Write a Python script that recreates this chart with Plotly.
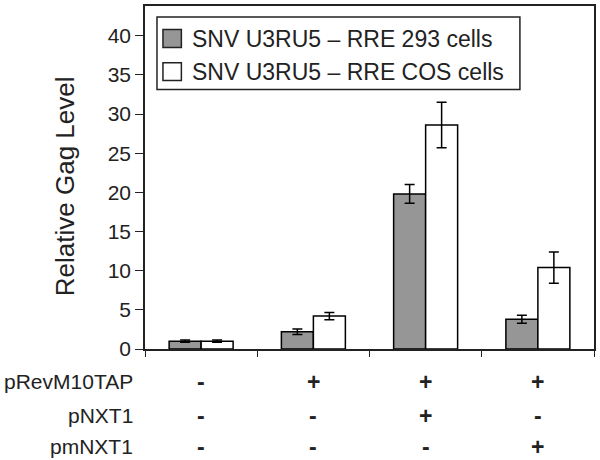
import plotly.graph_objects as go

# data
categories = ["c1", "c2", "c3", "c4"]
series_names = ["SNV U3RU5 \u2013 RRE 293 cells", "SNV U3RU5 \u2013 RRE COS cells"]
series_colors = ["#969696", "#ffffff"]
gag_293 = [1.0, 2.2, 19.8, 3.8]
err_293 = [0.15, 0.35, 1.2, 0.5]
gag_cos = [1.0, 4.2, 28.6, 10.4]
err_cos = [0.15, 0.45, 2.9, 2.0]

row_labels = ["pRevM10TAP", "pNXT1", "pmNXT1"]
row_signs = [
    ["-", "+", "+", "+"],
    ["-", "-", "+", "-"],
    ["-", "-", "-", "+"],
]

FONT = "Liberation Sans, Arial, sans-serif"
INK = "#222"

fig = go.Figure()
for name, vals, errs, fill in zip(series_names, [gag_293, gag_cos], [err_293, err_cos], series_colors):
    fig.add_trace(go.Bar(
        x=categories, y=vals, name=name, showlegend=False,
        marker=dict(color=fill, line=dict(color="black", width=1.5)),
        error_y=dict(type="data", array=errs, color="black", thickness=1.5, width=5),
    ))

annotations = []
shapes = []

# +/- table under the axis
row_y = [-0.096, -0.194, -0.285]
for label, signs, yy in zip(row_labels, row_signs, row_y):
    annotations.append(dict(
        text=label, xref="paper", yref="paper", x=-0.022, y=yy,
        xanchor="right", yanchor="middle", showarrow=False,
        font=dict(size=21, color=INK),
    ))
    for cat, s in zip(categories, signs):
        annotations.append(dict(
            text="<b>%s</b>" % s, xref="x", yref="paper", x=cat, y=yy,
            xanchor="center", yanchor="middle", showarrow=False,
            font=dict(size=23, color=INK),
        ))

annotations.append(dict(
    text="Relative Gag Level", xref="paper", yref="paper", x=-0.178, y=0.475,
    xanchor="center", yanchor="middle", textangle=-90, showarrow=False,
    font=dict(size=26, color=INK),
))

# boxed legend, drawn like the Excel one (larger swatches than plotly's)
shapes.append(dict(type="rect", xref="paper", yref="paper",
                   x0=0.0267, x1=0.835, y0=0.7565, y1=0.968,
                   line=dict(color=INK, width=1.5), fillcolor="white", layer="above"))
for i, (name, fill) in enumerate(zip(series_names, series_colors)):
    yc = 0.9052 - i * 0.0965
    shapes.append(dict(type="rect", xref="paper", yref="paper",
                       x0=0.040, x1=0.081, y0=yc - 0.026, y1=yc + 0.026,
                       line=dict(color=INK, width=1.5), fillcolor=fill, layer="above"))
    annotations.append(dict(
        text=name, xref="paper", yref="paper", x=0.1, y=yc,
        xanchor="left", yanchor="middle", showarrow=False,
        font=dict(size=23, color=INK),
    ))

fig.update_layout(
    width=600, height=460,
    margin=dict(l=145, r=5, t=4, b=111),
    paper_bgcolor="white", plot_bgcolor="white",
    font=dict(family=FONT, color=INK),
    barmode="group", bargap=0.43, bargroupgap=0,
    annotations=annotations, shapes=shapes,
)
fig.update_xaxes(
    showline=True, linecolor=INK, linewidth=1.5, mirror=True,
    showticklabels=False, ticks="outside", tickson="boundaries",
    ticklen=6, tickcolor=INK, showgrid=False,
)
fig.update_yaxes(
    range=[0, 43.8], tickvals=[0, 5, 10, 15, 20, 25, 30, 35, 40],
    showline=True, linecolor=INK, linewidth=1.5, mirror=True,
    ticks="outside", ticklen=8, tickcolor=INK, showgrid=False,
    tickfont=dict(size=21), zeroline=False,
)

fig.write_html("out.html", config={"displayModeBar": False},
               post_script="document.body.style.margin='0';")
